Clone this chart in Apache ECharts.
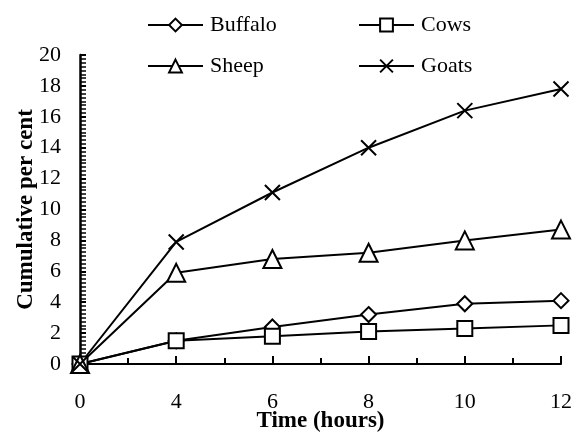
<!DOCTYPE html>
<html>
<head>
<meta charset="utf-8">
<script src="https://cdn.jsdelivr.net/npm/echarts@6/dist/echarts.min.js"></script>
<style>
  html, body { margin: 0; padding: 0; background: #fff; }
  #chart { width: 578px; height: 434px; }
</style>
</head>
<body>
<div id="chart"></div>
<script>
var hours = ['0', '4', '6', '8', '10', '12']
var buffalo = [0, 1.5, 2.4, 3.2, 3.9, 4.1]
var cows = [0, 1.5, 1.8, 2.1, 2.3, 2.5]
var sheep = [0, 5.9, 6.8, 7.2, 8.0, 8.7]
var goats = [0, 7.9, 11.1, 14.0, 16.4, 17.8]

var font = '"Liberation Serif", "Times New Roman", serif'
var crossPath = 'path://M0,0L10,10M10,0L0,10'

function makeSeries(name, data, symbol, size) {
  return {
    name: name,
    type: 'line',
    data: data,
    symbol: symbol,
    symbolSize: size,
    showAllSymbol: true,
    lineStyle: { color: '#000', width: 2 },
    itemStyle: { color: '#fff', borderColor: '#000', borderWidth: 2 }
  }
}

function makeLegend(name, left, top) {
  return {
    data: [name],
    left: left,
    top: top,
    padding: 0,
    itemWidth: 55,
    itemHeight: 16,
    itemGap: 0,
    textStyle: { fontFamily: font, fontSize: 22, color: '#000', padding: [0, 0, 0, 2] }
  }
}

var chart = echarts.init(document.getElementById('chart'))
chart.setOption({
  backgroundColor: '#fff',
  animation: false,
  legend: [
    makeLegend('Buffalo', 147, 14),
    makeLegend('Cows', 358, 14),
    makeLegend('Sheep', 147, 55),
    makeLegend('Goats', 358, 55)
  ],
  grid: { left: 80, right: 17, top: 55, bottom: 70, containLabel: false, outerBoundsMode: 'none' },
  xAxis: [
    {
      type: 'category',
      data: hours,
      boundaryGap: false,
      name: 'Time (hours)',
      nameLocation: 'middle',
      nameGap: 46,
      nameMoveOverlap: false,
      nameTextStyle: { fontFamily: font, fontSize: 23, fontWeight: 'bold', color: '#000' },
      axisLine: { lineStyle: { color: '#000', width: 2 } },
      axisTick: { inside: true, length: 8, lineStyle: { color: '#000', width: 2 } },
      axisLabel: { margin: 27, fontFamily: font, fontSize: 22, color: '#000' },
      splitLine: { show: false }
    },
    {
      // half-step ticks between the hour categories
      type: 'value',
      min: 0,
      max: 10,
      interval: 1,
      position: 'bottom',
      axisLine: { show: false },
      axisTick: { inside: true, length: 6, lineStyle: { color: '#000', width: 2 } },
      axisLabel: { show: false },
      splitLine: { show: false }
    }
  ],
  yAxis: {
    type: 'value',
    min: 0,
    max: 20,
    interval: 2,
    name: 'Cumulative per cent',
    nameLocation: 'middle',
    nameGap: 42,
    nameMoveOverlap: false,
    nameTextStyle: { fontFamily: font, fontSize: 23, fontWeight: 'bold', color: '#000' },
    axisLine: { show: true, lineStyle: { color: '#000', width: 2.5 } },
    axisTick: { show: true, inside: true, length: 6, lineStyle: { color: '#000', width: 2 } },
    minorTick: { show: true, splitNumber: 8, length: 6, lineStyle: { color: '#000', width: 1.5 } },
    axisLabel: { margin: 19, fontFamily: font, fontSize: 22, color: '#000' },
    splitLine: { show: false }
  },
  series: [
    makeSeries('Buffalo', buffalo, 'diamond', 15),
    makeSeries('Cows', cows, 'rect', 15),
    makeSeries('Sheep', sheep, 'triangle', 18),
    makeSeries('Goats', goats, crossPath, 15)
  ]
})
</script>
</body>
</html>
